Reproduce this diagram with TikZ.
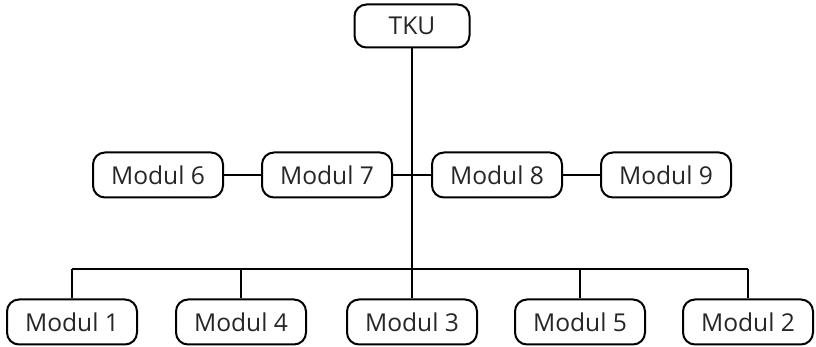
\documentclass[tikz,border=0pt]{standalone}
\usepackage{fontspec}
\setmainfont{Open Sans}
\tikzset{modbox/.style = {draw, rounded corners = 6pt, line width = 1pt, minimum width = 65pt, minimum height = 22.5pt, inner sep = 0pt, font = \fontsize{12.3}{14}\selectfont, text = black!85}}
\begin{document}
\begin{tikzpicture}[x = 0.5pt, y = -0.5pt, line width = 0.9pt]
\useasboundingbox (0, 0) rectangle (816, 347);
\node[modbox, minimum width = 57.5pt, minimum height = 21.5pt] (tku) at (412, 26) {TKU};
\node[modbox] (m6) at (158, 175) {Modul 6};
\node[modbox] (m7) at (327, 175) {Modul 7};
\node[modbox] (m8) at (497, 175) {Modul 8};
\node[modbox] (m9) at (666, 175) {Modul 9};
\node[modbox] (m1) at (72, 322) {Modul 1};
\node[modbox] (m4) at (241, 322) {Modul 4};
\node[modbox] (m3) at (412, 322) {Modul 3};
\node[modbox] (m5) at (580, 322) {Modul 5};
\node[modbox] (m2) at (748, 322) {Modul 2};
\coordinate (bus) at (412, 269);
% trunk and middle row
\draw (tku.south) -- (bus);
\draw (m6.east) -- (m7.west);
\draw (m7.east) -- (m8.west);
\draw (m8.east) -- (m9.west);
% bus to bottom row
\draw (bus -| m1.north) -- (bus -| m2.north);
\foreach \m in {m1, m4, m3, m5, m2}
  \draw (bus -| \m.north) -- (\m.north);
\end{tikzpicture}
\end{document}
